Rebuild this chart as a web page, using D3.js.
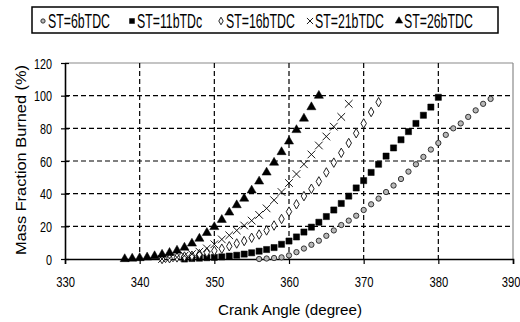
<!DOCTYPE html>
<html>
<head>
<meta charset="utf-8">
<script src="https://cdn.jsdelivr.net/npm/d3@7/dist/d3.min.js"></script>
<style>
  body { margin: 0; background: #fff; }
  text { font-family: "Liberation Sans", Arial, sans-serif; fill: #000; }
</style>
</head>
<body>
<div id="chart-area"></div>
<script>

// SVG Size
var width = 520,
    height = 322;

// Data (crank angle in degrees, mass fraction burned in %)
var st6Angle = [356,357,358,359,360,361,362,363,364,365,366,367,368,369,370,371,372,373,374,375,376,377,378,379,380,381,382,383,384,385,386,387];
var st6Mfb   = [0,0.3,0.6,1,2.2,4.2,6.4,8.7,11.2,14.2,17.5,20.8,23.5,26.5,30,33.5,37,41,45,49,53.5,58,62.5,67,71,76,80,83,87,91,95,98];

var st11Angle = [346,347,348,349,350,351,352,353,354,355,356,357,358,359,360,361,362,363,364,365,366,367,368,369,370,371,372,373,374,375,376,377,378,379,380];
var st11Mfb   = [0,0.3,0.5,0.8,1,1.3,1.8,2.3,3,3.8,4.8,5.8,7,9,11,13.5,16.5,19.5,22.5,26,30,34,38.5,43.5,48,53,58,63,68,73,78,83,88,93,99];

var st16Angle = [343,344,345,346,347,348,349,350,351,352,353,354,355,356,357,358,359,360,361,362,363,364,365,366,367,368,369,370,371,372];
var st16Mfb   = [0,0.5,1,1.5,2,3,4,5,6.3,7.8,9.5,11,13,15,17.5,20.5,24.5,29,33.5,38.5,43,47.5,53,59,65,71,77,83,90,96];

var st21Angle = [343,344,345,346,347,348,349,350,351,352,353,354,355,356,357,358,359,360,361,362,363,364,365,366,367,368];
var st21Mfb   = [0,0.5,1,2,3,4.5,6.5,9,12,14.5,17.5,20.5,23.5,27,31,36,41,46.5,52,58,64,69.5,75,81,87,95];

var st26Angle = [338,339,340,341,342,343,344,345,346,347,348,349,350,351,352,353,354,355,356,357,358,359,360,361,362,363,364];
var st26Mfb   = [0,0.3,0.6,1,1.8,2.7,3.8,5.2,7,9.5,12.5,16,19.6,24,28.5,33,37,42,47.5,53,59,65.5,72,79,86,93,100];

var seriesNames = ["ST=6bTDC", "ST=11bTDc", "ST=16bTDC", "ST=21bTDC", "ST=26bTDC"];
var xTicks = [330, 340, 350, 360, 370, 380, 390];
var yTicks = [0, 20, 40, 60, 80, 100, 120];

var series = [
  { name: seriesNames[0], angle: st6Angle,  mfb: st6Mfb },
  { name: seriesNames[1], angle: st11Angle, mfb: st11Mfb },
  { name: seriesNames[2], angle: st16Angle, mfb: st16Mfb },
  { name: seriesNames[3], angle: st21Angle, mfb: st21Mfb },
  { name: seriesNames[4], angle: st26Angle, mfb: st26Mfb }
];

// Marker look for each series
var timesType = d3.symbolTimes || d3.symbolX || d3.symbolCross;
var markers = [
  { type: d3.symbolCircle,   size: 22, fill: "#b8b8b8", stroke: "#333", sw: 1 },
  { type: d3.symbolSquare,   size: 38, fill: "#000",    stroke: "#000", sw: 0.5 },
  { type: d3.symbolDiamond,  size: 26, fill: "#fff",    stroke: "#222", sw: 1 },
  { type: timesType,         size: 40, fill: "none",    stroke: "#000", sw: 0.9 },
  { type: d3.symbolTriangle, size: 36, fill: "#000",    stroke: "#000", sw: 0.5 }
];

var svg = d3.select("#chart-area").append("svg")
    .attr("width", width)
    .attr("height", height);

svg.append("rect").attr("width", width).attr("height", height).attr("fill", "#fff");

// Scales
var x = d3.scaleLinear().domain([330, 390]).range([65, 513]);
var y = d3.scaleLinear().domain([0, 120]).range([259, 63]);

// Plot frame (top / right in grey)
svg.append("line")
    .attr("x1", x(330)).attr("x2", x(390)).attr("y1", y(120)).attr("y2", y(120))
    .attr("stroke", "#8a8a8a").attr("stroke-width", 1.2);
svg.append("line")
    .attr("x1", x(390)).attr("x2", x(390)).attr("y1", y(120)).attr("y2", y(0))
    .attr("stroke", "#8a8a8a").attr("stroke-width", 1.2);

// Dashed grid
svg.append("g").selectAll("line")
    .data(yTicks.filter(function(d){ return d > 0 && d < 120; }))
    .enter().append("line")
    .attr("x1", x(330)).attr("x2", x(390))
    .attr("y1", function(d){ return y(d); }).attr("y2", function(d){ return y(d); })
    .attr("stroke", "#000").attr("stroke-width", 1.2)
    .attr("stroke-dasharray", "5,3");

svg.append("g").selectAll("line")
    .data(xTicks.filter(function(d){ return d > 330 && d < 390; }))
    .enter().append("line")
    .attr("x1", function(d){ return x(d); }).attr("x2", function(d){ return x(d); })
    .attr("y1", y(120)).attr("y2", y(0))
    .attr("stroke", "#000").attr("stroke-width", 1.2)
    .attr("stroke-dasharray", "5,3");

// Axes
var xAxis = d3.axisBottom(x).tickValues(xTicks).tickSize(5).tickFormat(d3.format("d"));
var yAxis = d3.axisLeft(y).tickValues(yTicks).tickSize(0).tickFormat(d3.format("d"));

var gx = svg.append("g")
    .attr("transform", "translate(0," + y(0) + ")")
    .call(xAxis);
gx.select(".domain").attr("stroke", "#000").attr("stroke-width", 1.6);
gx.selectAll(".tick line").attr("stroke", "#000").attr("stroke-width", 1.2);
gx.selectAll(".tick text")
    .attr("y", 0).attr("dy", 0)
    .attr("transform", "translate(0,28) scale(0.75,1)")
    .style("font-size", "15px");
// last label sits on the right edge, as in the original; keep it inside
gx.selectAll(".tick text").filter(function(d){ return d === 390; })
    .attr("text-anchor", "end")
    .attr("transform", "translate(7,28) scale(0.75,1)");

var gy = svg.append("g")
    .attr("transform", "translate(" + x(330) + ",0)")
    .call(yAxis);
gy.select(".domain").attr("stroke", "#000").attr("stroke-width", 1.6);
gy.selectAll(".tick").append("line")
    .attr("x1", -4).attr("x2", 4)
    .attr("stroke", "#000").attr("stroke-width", 1.2);
gy.selectAll(".tick text")
    .attr("x", 0).attr("dy", 0)
    .attr("transform", "translate(-13,5) scale(0.72,1)")
    .style("font-size", "15px");

// Axis titles
svg.append("text")
    .attr("x", 290).attr("y", 315)
    .attr("text-anchor", "middle")
    .attr("textLength", 144).attr("lengthAdjust", "spacingAndGlyphs")
    .style("font-size", "14px")
    .text("Crank Angle (degree)");

svg.append("text")
    .attr("transform", "translate(26,160) rotate(-90)")
    .attr("text-anchor", "middle")
    .attr("textLength", 190).attr("lengthAdjust", "spacingAndGlyphs")
    .style("font-size", "14px")
    .text("Mass Fraction Burned (%)");

// Series markers
var symbol = d3.symbol();
series.forEach(function(s, i) {
  var m = markers[i];
  svg.append("g").selectAll("path")
      .data(s.angle.map(function(a, j){ return { angle: a, mfb: s.mfb[j] }; }))
      .enter().append("path")
      .attr("d", symbol.type(m.type).size(m.size)())
      .attr("transform", function(d){ return "translate(" + x(d.angle) + "," + y(d.mfb) + ")"; })
      .attr("fill", m.fill)
      .attr("stroke", m.stroke)
      .attr("stroke-width", m.sw);
});

// Legend
var legend = svg.append("g");
legend.append("rect")
    .attr("x", 32).attr("y", 7).attr("width", 466).attr("height", 26)
    .attr("fill", "#fff").attr("stroke", "#000").attr("stroke-width", 1.5);

var items = legend.selectAll("g.item")
    .data(series)
    .enter().append("g")
    .attr("class", "item")
    .attr("transform", function(d, i){ return "translate(" + (43 + i * 89) + ",21)"; });

items.append("path")
    .attr("d", function(d, i){ return d3.symbol().type(markers[i].type).size(markers[i].size * 0.65)(); })
    .attr("fill", function(d, i){ return markers[i].fill; })
    .attr("stroke", function(d, i){ return markers[i].stroke; })
    .attr("stroke-width", function(d, i){ return markers[i].sw; });

// tall, narrow lettering like the original
items.append("text")
    .attr("transform", "translate(5,7) scale(0.88,1.4)")
    .style("font-size", "14px")
    .text(function(d){ return d.name; });

</script>
</body>
</html>
